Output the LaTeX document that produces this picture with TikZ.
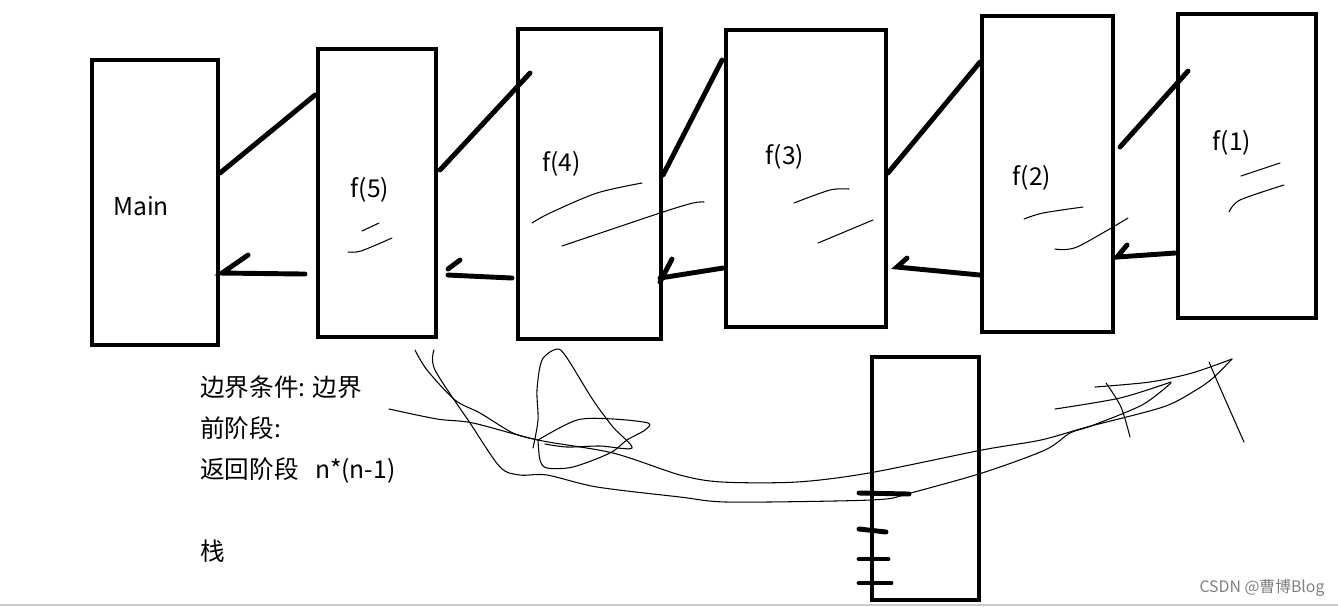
\documentclass[tikz,border=0pt]{standalone}
\usepackage{fontspec}
\setmainfont{Noto Sans CJK SC}
\usetikzlibrary{calc}

\begin{document}
\begin{tikzpicture}[
  x=0.02cm, y=-0.02cm,
  frame/.style={draw, line width=2.6pt, inner sep=0pt, outer sep=0pt},
  call/.style={line width=2.8pt, line cap=round},
  scribble/.style={line width=0.6pt, line cap=round},
  lbl/.style={font=\fontsize{14}{17}\selectfont, inner sep=0pt},
  note/.style={font=\fontsize{14}{17}\selectfont, anchor=west, inner sep=0pt}
]
  \useasboundingbox (0,0) rectangle (1338,606);

  % the call frames
  \node[frame, minimum width=2.52cm, minimum height=5.70cm] (main) at (155,202.5) {};
  \node[frame, minimum width=2.36cm, minimum height=5.76cm] (f5) at (377,193) {};
  \node[frame, minimum width=2.86cm, minimum height=6.20cm] (f4) at (589.5,184) {};
  \node[frame, minimum width=3.20cm, minimum height=5.94cm] (f3) at (806,178.5) {};
  \node[frame, minimum width=2.62cm, minimum height=6.32cm] (f2) at (1047.5,174) {};
  \node[frame, minimum width=2.76cm, minimum height=6.08cm] (f1) at (1247,166) {};
  \node[frame, minimum width=2.14cm, minimum height=4.86cm] (stack) at (925.5,478.5) {};

  \node[lbl] (tmain) at (141,206) {Main};
  \node[lbl] (t5) at (370,190) {f(5)};
  \node[lbl] (t4) at (561.5,164) {f(4)};
  \node[lbl] (t3) at (785,157) {f(3)};
  \node[lbl] (t2) at (1032,178) {f(2)};
  \node[lbl] (t1) at (1232,143) {f(1)};

  % calls going down
  \draw[call] ($(main.north east)+(2,113)$) -- ($(f5.north west)+(-3,46)$);
  \draw[call] ($(f5.north east)+(4,121)$) -- ($(f4.north west)+(12,44)$);
  \draw[call] ($(f4.north east)+(2,146)$) -- ($(f3.north west)+(-4,30)$);
  \draw[call] ($(f3.north east)+(2,143)$) -- ($(f2.north west)+(-2,46)$);
  \draw[call] ($(f2.north east)+(7,131)$) -- ($(f1.north west)+(10,57)$);

  % returns coming back
  \draw[call] ($(f5.north west)+(-13,225)$) -- ($(main.north east)+(4,213)$) -- ++(26,-18);
  \draw[call] ($(f4.north west)+(-6,249)$) -- ($(f5.north east)+(12,226)$);
  \draw[call] ($(f5.north east)+(12,220)$) -- ++(12,-9);
  \draw[call] ($(f3.north west)+(-3,238)$) -- ($(f4.north east)+(-1,249)$);
  \draw[call] ($(f4.north east)+(-1,253)$) -- ++(12,-23);
  \draw[call] ($(f2.north west)+(-2,259)$) -- ($(f3.north east)+(11,237)$) -- ++(10,-9);
  \draw[call] ($(f1.north west)+(-3,239)$) -- ($(f2.north east)+(4,241)$) -- ++(10,-12);

  % stack marks
  \draw[call] ($(stack.west)+(-13,14.5)$) -- ++(50,1);
  \draw[call] ($(stack.west)+(-13,50.5)$) -- ++(27,3);
  \draw[call] ($(stack.west)+(-13,80.5)$) -- ++(29,0);
  \draw[call] ($(stack.west)+(-13,104.5)$) -- ++(32,0);

  % scribbles in the frames
  \draw[scribble] plot[smooth] coordinates {(362,231) (379,223)};
  \draw[scribble] plot[smooth] coordinates {(348,252) (361,251) (392,238)};
  \draw[scribble] plot[smooth] coordinates {(532,223) (550,213) (597,193) (642,183)};
  \draw[scribble] plot[smooth] coordinates {(562,246) (660,213) (693,203) (704,202)};
  \draw[scribble] plot[smooth] coordinates {(794,203) (830,190) (849,189)};
  \draw[scribble] plot[smooth] coordinates {(818,243) (873,220)};
  \draw[scribble] plot[smooth] coordinates {(1024,219) (1043,213) (1083,207)};
  \draw[scribble] plot[smooth] coordinates {(1055,249) (1077,247) (1128,218)};
  \draw[scribble] plot[smooth] coordinates {(1241,176) (1280,163)};
  \draw[scribble] plot[smooth] coordinates {(1229,212) (1240,200) (1284,185)};

  % scribbles below
  \draw[scribble] plot[smooth] coordinates {(415,350) (427,370) (455,400) (480,413) (513,433) (538,440)};
  \draw[scribble] plot[smooth] coordinates {(389,409) (437,419) (473,423) (538,440) (613,453) (680,475)
    (722,482) (797,482) (869,473) (982,450) (1041,440) (1087,427) (1163,407) (1196,390) (1213,378) (1232,359)};
  \draw[scribble] plot[smooth] coordinates {(434,350) (435,370) (470,423) (500,467) (520,475) (547,475)
    (597,487) (680,497) (726,502) (835,501) (886,499) (907,494) (982,473) (1045,450) (1070,433)
    (1091,426) (1142,405) (1171,383)};
  \draw[scribble] plot[smooth] coordinates {(1232,359) (1192,373) (1150,382) (1095,387)};
  \draw[scribble] plot[smooth] coordinates {(1055,409) (1120,398) (1171,382)};
  \draw[scribble] plot[smooth] coordinates {(1106,383) (1121,407) (1130,437)};
  \draw[scribble] plot[smooth] coordinates {(1209,362) (1221,390) (1244,442)};
  \draw[scribble] plot[smooth] coordinates {(533,448) (538,420) (537,390) (542,360) (557,349) (567,358)
    (593,400) (613,427) (632,448) (600,446) (567,447) (545,444)};
  \draw[scribble] plot[smooth] coordinates {(538,440) (577,420) (613,419) (648,423) (645,430) (627,440)
    (610,453) (573,467) (547,468) (540,460) (538,440)};

  % notes
  \node[note] (edge) at (200,387) {边界条件: 边界};
  \node[note] (front) at (200,428) {前阶段:};
  \node[note] (back) at (200,470) {返回阶段\hspace{0.7em}n*(n-1)};
  \node[note] (zhan) at (200,551) {栈};

  \node[font=\fontsize{9}{10}\selectfont, text=gray, inner sep=0pt] (mark) at (1262,588) {CSDN @曹博Blog};
  \draw[gray!40, line width=1.2pt] (0,605) -- (1338,605);
\end{tikzpicture}
\end{document}
